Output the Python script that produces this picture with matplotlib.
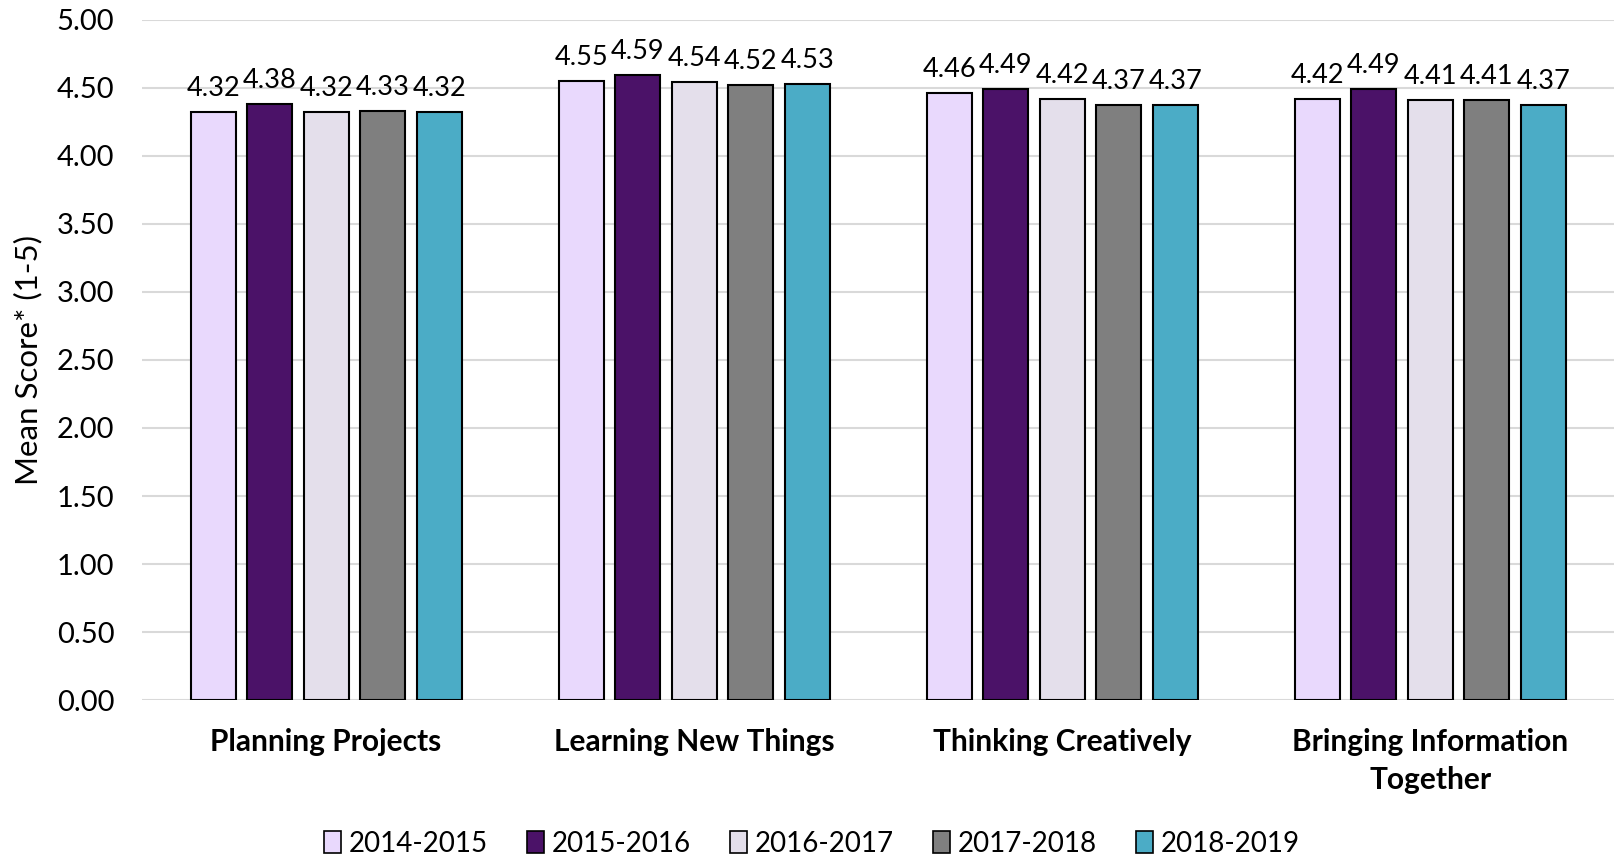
import matplotlib
matplotlib.use("Agg")
import matplotlib.pyplot as plt
import numpy as np
from matplotlib.patches import Patch

plt.rcParams['font.family'] = ['Lato', 'DejaVu Sans']

categories = ["Planning Projects", "Learning New Things", "Thinking Creatively", "Bringing Information\nTogether"]
series_names = ["2014-2015", "2015-2016", "2016-2017", "2017-2018", "2018-2019"]
values = {
    "2014-2015": [4.32, 4.55, 4.46, 4.42],
    "2015-2016": [4.38, 4.59, 4.49, 4.49],
    "2016-2017": [4.32, 4.54, 4.42, 4.41],
    "2017-2018": [4.33, 4.52, 4.37, 4.41],
    "2018-2019": [4.32, 4.53, 4.37, 4.37],
}
colors = ["#E9D9FD", "#4B1268", "#E4DFEB", "#7F7F7F", "#4BACC6"]
yticks = [0, 0.5, 1.0, 1.5, 2.0, 2.5, 3.0, 3.5, 4.0, 4.5, 5.0]

fig = plt.figure(figsize=(16.18, 8.56), dpi=100)
ax = fig.add_axes([0.0878, 0.182, 0.910, 0.795])

x = np.arange(len(categories))
slot = 0.1535
width = 0.122
for i, (name, col) in enumerate(zip(series_names, colors)):
    pos = x + (i - 2) * slot
    bars = ax.bar(pos, values[name], width=width, color=col, edgecolor="black", linewidth=1.5, zorder=3)
    for b, v in zip(bars, values[name]):
        ax.annotate(f"{v:.2f}", (b.get_x() + b.get_width() / 2, v), xytext=(0, 8),
                    textcoords="offset points", ha="center", va="bottom", fontsize=19.5, color="black")

ax.set_xlim(-0.5, len(categories) - 0.5)
ax.set_ylim(0, 5)
ax.set_yticks(yticks)
ax.set_yticklabels([f"{t:.2f}" for t in yticks], fontsize=21)
ax.set_xticks(x)
ax.set_xticklabels(categories, fontsize=21.5, fontweight="bold", linespacing=1.45)
ax.tick_params(axis="x", length=0, pad=20)
ax.tick_params(axis="y", length=0, pad=20)
ax.grid(axis="y", color="#D9D9D9", linewidth=1.5, zorder=0)
for s in ax.spines.values():
    s.set_visible(False)
ax.set_ylabel("Mean Score* (1-5)", fontsize=22.5, labelpad=10)

handles = [Patch(facecolor=c, edgecolor="black", linewidth=1.2, label=n) for n, c in zip(series_names, colors)]
fig.legend(handles=handles, loc="lower center", bbox_to_anchor=(0.502, -0.03), ncol=5, frameon=False,
           fontsize=20, handlelength=0.6, handleheight=0.8, handletextpad=0.3, columnspacing=1.4)

fig.savefig("out.png", dpi=100)
